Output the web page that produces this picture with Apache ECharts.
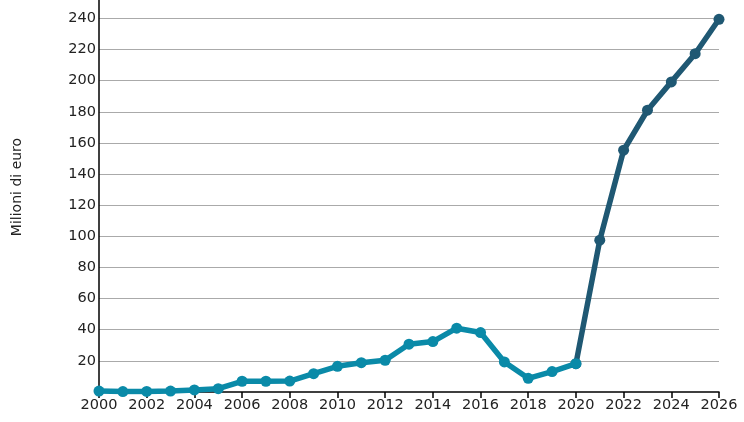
<!DOCTYPE html>
<html><head><meta charset="utf-8">
<script src="https://cdn.jsdelivr.net/npm/echarts@6/dist/echarts.min.js"></script>
<style>html,body{margin:0;padding:0;background:#fff}#c{width:744px;height:422px}</style>
</head><body><div id="c"></div>
<script>
const yearsHist = [2000,2001,2002,2003,2004,2005,2006,2007,2008,2009,2010,2011,2012,2013,2014,2015,2016,2017,2018,2019,2020];
const valuesHist = [0.6,0.3,0.4,0.6,1.3,2.1,6.9,6.9,7.0,11.8,16.5,18.8,20.4,30.7,32.4,41.0,38.2,19.3,8.8,13.1,18.2];
const yearsFcst = [2020,2021,2022,2023,2024,2025,2026];
const valuesFcst = [18.2,97.5,155.3,181.0,199.2,217.3,239.4];
const yTitle = "Milioni di euro";

const chart = echarts.init(document.getElementById('c'));
const font = 'DejaVu Sans';
chart.setOption({
  animation:false,
  grid:{left:99,right:25,top:0,bottom:30,containLabel:false},
  xAxis:{type:'value',min:2000,max:2026,interval:2,
    axisLine:{show:true,lineStyle:{color:'#000',width:1.5}},
    axisTick:{show:true,length:6,lineStyle:{color:'#000',width:1.5}},
    axisLabel:{color:'#222',fontFamily:font,fontSize:14.5,margin:6,formatter:v=>String(v)},
    splitLine:{show:false}},
  yAxis:{type:'value',min:0,max:251.8,interval:20,
    name:yTitle,nameLocation:'middle',nameGap:75,nameRotate:90,
    nameTextStyle:{color:'#222',fontFamily:font,fontSize:14,padding:[0,0,0,18]},
    axisLine:{show:true,lineStyle:{color:'#000',width:1.5}},
    axisTick:{show:false},
    axisLabel:{color:'#222',fontFamily:font,fontSize:14.5,margin:3,showMinLabel:false,showMaxLabel:false},
    splitLine:{show:true,showMinLine:false,showMaxLine:false,lineStyle:{color:'#aaa',width:1}}},
  series:[
    {type:'line',data:yearsFcst.map((y,i)=>[y,valuesFcst[i]]),z:2,
     lineStyle:{color:'#1f5873',width:5.5},itemStyle:{color:'#1f5873'},
     symbol:'circle',symbolSize:11,showAllSymbol:true},
    {type:'line',data:yearsHist.map((y,i)=>[y,valuesHist[i]]),z:3,
     lineStyle:{color:'#0a8aa8',width:5.5},itemStyle:{color:'#0a8aa8'},
     symbol:'circle',symbolSize:11,showAllSymbol:true}
  ]
});
</script></body></html>
